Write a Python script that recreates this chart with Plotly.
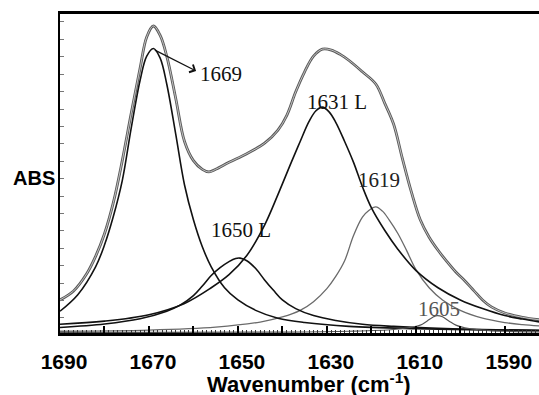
import plotly.graph_objects as go

# ---------------- data ----------------
wn_total = [1690, 1687, 1684, 1682, 1680, 1678, 1676, 1674, 1672, 1670.5, 1669, 1667.5, 1666, 1664, 1662,
            1660, 1658, 1656.5, 1655, 1652, 1648, 1644, 1641, 1639, 1637, 1635, 1633, 1631, 1629, 1627,
            1625, 1622, 1619, 1617, 1615, 1613, 1611, 1609, 1607, 1605, 1603, 1601, 1599, 1597, 1595,
            1593, 1590, 1586, 1582]
abs_total = [1.9, 2.4, 3.4, 4.4, 5.7, 7.5, 9.9, 12.6, 15.2, 17.0, 17.63, 17.1, 15.9, 13.5, 11.0,
             9.9, 9.4, 9.25, 9.4, 9.8, 10.3, 10.9, 11.65, 12.5, 13.85, 15.0, 15.9, 16.3, 16.25, 16.0,
             15.65, 15.0, 14.3, 13.2, 12.0, 10.0, 8.1, 6.5, 5.5, 4.75, 4.1, 3.5, 3.0, 2.45, 1.9,
             1.5, 1.15, 0.9, 0.75]

wn_1669 = [1690, 1686, 1682, 1680, 1678, 1676, 1674, 1672, 1670.5, 1669, 1667.5, 1666, 1664, 1662, 1660,
           1658, 1656, 1653, 1650, 1646, 1641, 1635, 1625, 1610, 1595, 1582]
abs_1669 = [1.25, 2.2, 3.8, 5.05, 6.7, 8.75, 11.75, 14.5, 15.9, 16.34, 15.8, 14.3, 11.45, 8.5, 6.5,
            4.95, 3.8, 2.6, 1.9, 1.3, 0.85, 0.6, 0.38, 0.25, 0.18, 0.14]

wn_1650 = [1690, 1680, 1672, 1666, 1663, 1660, 1658, 1656, 1654, 1652, 1650.5, 1649.5, 1648, 1646, 1644,
           1642, 1640, 1637, 1633, 1628, 1622, 1615, 1605, 1595, 1582]
abs_1650 = [0.32, 0.52, 0.82, 1.25, 1.6, 2.15, 2.7, 3.3, 3.75, 4.1, 4.28, 4.3, 4.15, 3.7, 3.05,
            2.45, 1.9, 1.4, 1.0, 0.72, 0.5, 0.38, 0.27, 0.2, 0.15]

wn_1631 = [1690, 1680, 1670, 1662, 1656, 1652, 1648, 1644, 1641, 1638, 1636, 1634, 1632.5, 1631, 1629.5,
           1628, 1626, 1624, 1622, 1620, 1617, 1614, 1610, 1605, 1600, 1595, 1590, 1586, 1582]
abs_1631 = [0.5, 0.68, 1.05, 1.7, 2.6, 3.35, 4.45, 6.2, 7.95, 9.8, 11.0, 12.15, 12.75, 12.97, 12.7,
            12.1, 11.0, 9.8, 8.4, 7.2, 5.9, 4.8, 3.6, 2.6, 1.9, 1.4, 1.0, 0.8, 0.63]

wn_1619 = [1690, 1670, 1655, 1645, 1640, 1636, 1633, 1630, 1628, 1626, 1624, 1622, 1620.5, 1619, 1617.5,
           1616, 1614, 1612, 1610, 1607, 1604, 1600, 1595, 1590, 1586, 1582]
abs_1619 = [0.1, 0.17, 0.34, 0.63, 0.92, 1.3, 1.8, 2.55, 3.25, 4.15, 5.6, 6.65, 7.05, 7.24, 7.0,
            6.5, 5.7, 4.7, 3.65, 2.6, 1.9, 1.3, 0.85, 0.6, 0.48, 0.4]

wn_1605 = [1690, 1640, 1625, 1615, 1611, 1609, 1607.5, 1606, 1605.2, 1604, 1602.5, 1601, 1599, 1595, 1590, 1582]
abs_1605 = [0.02, 0.05, 0.1, 0.2, 0.33, 0.45, 0.68, 0.93, 1.0, 0.93, 0.68, 0.45, 0.3, 0.17, 0.1, 0.06]

x_label_values = [1690, 1670, 1650, 1630, 1610, 1590]
x_label_texts = ["1690", "1670", "1650", "1630", "1610", "1590"]
x_major_values = [1690, 1680, 1670, 1660, 1650, 1640, 1630, 1620, 1610, 1600, 1590]
y_tick_values = [0.862 + k for k in range(18)]

band_labels = ["1669", "1650 L", "1631 L", "1619", "1605"]

# ---------------- figure ----------------
fig = go.Figure()

def add_line(x, y, color, width, xaxis="x"):
    fig.add_trace(go.Scatter(x=x, y=y, mode="lines", hoverinfo="skip", xaxis=xaxis,
                             line=dict(color=color, width=width, shape="spline", smoothing=1.0)))

# measured / fitted envelope drawn as a double line
add_line(wn_total, abs_total, "#5a5a5a", 2.8)
add_line(wn_total, abs_total, "#dddddd", 0.8)
add_line(wn_1619, abs_1619, "#6a6a6a", 1.3)
add_line(wn_1605, abs_1605, "#555555", 1.2, xaxis="x2")
add_line(wn_1650, abs_1650, "#111111", 1.6)
add_line(wn_1631, abs_1631, "#111111", 1.6)
add_line(wn_1669, abs_1669, "#111111", 1.6)

serif = "Liberation Serif, Times New Roman, serif"
sans = "Liberation Sans, Arial, sans-serif"

# arrow from the 1669 peak to its label
fig.add_annotation(x=1659.4, y=15.05, ax=wn_1669[9], ay=abs_1669[9] - 0.05,
                   xref="x", yref="y", axref="x", ayref="y", text="", showarrow=True,
                   arrowhead=4, arrowsize=1.3, arrowwidth=1.3, arrowcolor="#111111")

label_pos = [(1659.0, 14.9), (1656.6, 5.9), (1635.0, 13.26), (1623.4, 8.78), (1609.9, 1.36)]
label_col = ["#111111", "#111111", "#111111", "#222222", "#555555"]
for t, (lx, ly), c in zip(band_labels, label_pos, label_col):
    fig.add_annotation(x=lx, y=ly, xref="x", yref="y", text=t, showarrow=False,
                       xanchor="left", yanchor="middle",
                       font=dict(family=serif, size=21, color=c))

fig.add_annotation(x=-0.055, y=0.485, xref="paper", yref="paper", text="ABS", showarrow=False,
                   xanchor="center", yanchor="middle",
                   font=dict(family=sans, size=20, color="black", weight="bold"))
fig.add_annotation(x=0.519, y=-0.158, xref="paper", yref="paper",
                   text="Wavenumber (cm<sup>-1</sup>)", showarrow=False,
                   xanchor="center", yanchor="middle",
                   font=dict(family=sans, size=22, color="black", weight="bold"))

fig.update_layout(
    width=539, height=395,
    margin=dict(l=60, r=0, t=14, b=62),
    paper_bgcolor="white", plot_bgcolor="white",
    showlegend=False,
    xaxis=dict(range=[1690, 1582.3], showgrid=False, zeroline=False,
               showline=True, linecolor="black", linewidth=2.5, mirror=True,
               ticks="inside", ticklen=7, tickwidth=1.5, tickcolor="black",
               tickmode="array", tickvals=x_label_values, ticktext=x_label_texts,
               ticklabelshift=-4, ticklabelstandoff=8,
               tickfont=dict(family=sans, size=21, color="black", weight="bold"),
               minor=dict(tickmode="linear", tick0=1690, dtick=1, ticks="inside",
                          ticklen=3, tickwidth=1, tickcolor="#333333")),
    xaxis2=dict(range=[1690, 1582.3], overlaying="x", anchor="y", side="bottom",
                showgrid=False, zeroline=False, showline=False,
                ticks="inside", ticklen=7, tickwidth=1.5, tickcolor="black",
                tickmode="array", tickvals=x_major_values, showticklabels=False),
    yaxis=dict(range=[0, 18.32], showgrid=False, zeroline=False,
               showline=True, linecolor="black", linewidth=1.5, mirror=False,
               ticks="inside", ticklen=4, tickwidth=1, tickcolor="#777777",
               tickmode="array", tickvals=y_tick_values, showticklabels=False),
)

fig.write_html("out.html")
